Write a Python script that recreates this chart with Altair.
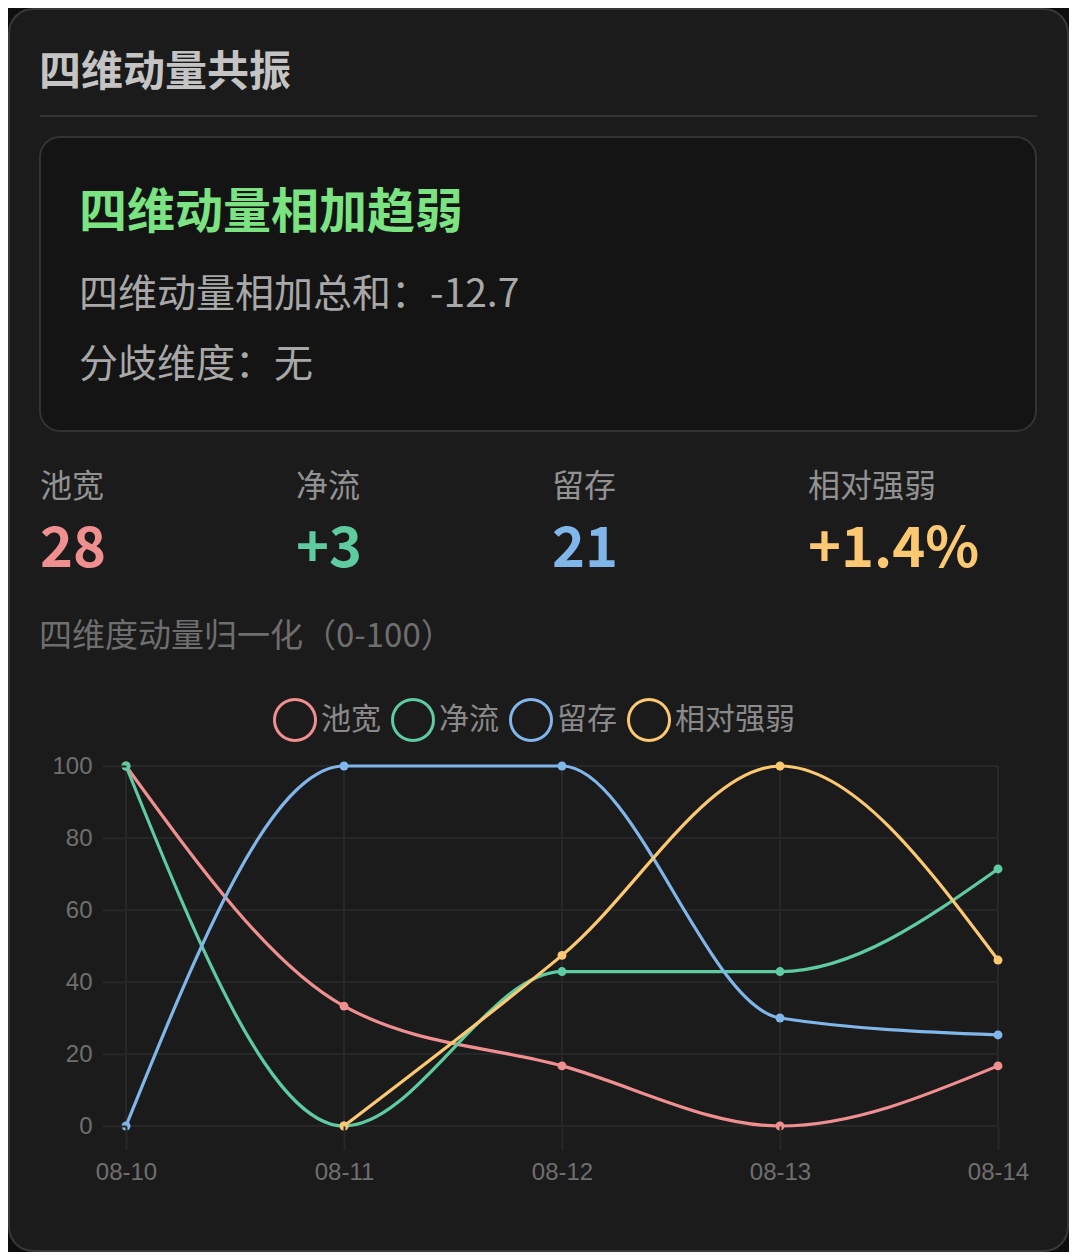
import math
import altair as alt
import pandas as pd

# ---------------- data ----------------
dates = ["08-10", "08-11", "08-12", "08-13", "08-14"]
series = ["池宽", "净流", "留存", "相对强弱"]
pool_width = [100, 33.3, 16.7, 0, 16.7]
net_flow = [100, 0, 42.9, 42.9, 71.4]
retention = [0, 100, 100, 30.0, 25.3]
rel_strength = [None, 0, 47.4, 100, 46.1]
series_colors = ["#f08f8f", "#5ecba1", "#80b6ea", "#fcc872"]

card_title = "四维动量共振"
signal_title = "四维动量相加趋弱"
signal_lines = ["四维动量相加总和：-12.7", "分歧维度：无"]
stat_labels = ["池宽", "净流", "留存", "相对强弱"]
stat_values = ["28", "+3", "21", "+1.4%"]
chart_subtitle = "四维度动量归一化（0-100）"
y_ticks = [0, 20, 40, 60, 80, 100]

# ---------------- build table ----------------
rows = []
for name, vals in zip(series, [pool_width, net_flow, retention, rel_strength]):
    for d, v in zip(dates, vals):
        if v is not None:
            rows.append({"date": d, "series": name, "value": v})
df = pd.DataFrame(rows)

CJK = "Noto Sans CJK SC"
LAT = "Liberation Sans"
GRID = "#272727"
one = pd.DataFrame({"k": [0]})


# ring-shaped legend symbol (outlined circle look), unit square [-1, 1]
def ring_path(inner=0.864, n=48):
    outer_pts = [(math.cos(2 * math.pi * i / n), math.sin(2 * math.pi * i / n)) for i in range(n)]
    inner_pts = [(inner * x, -inner * y) for x, y in outer_pts]
    p = "M" + " L".join(f"{x:.4f},{y:.4f}" for x, y in outer_pts) + " Z "
    p += "M" + " L".join(f"{x:.4f},{y:.4f}" for x, y in inner_pts) + " Z"
    return p


RING = ring_path()


def box(x, x2, y, y2, fill, stroke, radius):
    return alt.Chart(one).mark_rect(
        fill=fill, stroke=stroke, strokeWidth=2, cornerRadius=radius
    ).encode(x=alt.value(x), x2=alt.value(x2), y=alt.value(y), y2=alt.value(y2))


def label(text, x, y, size, color, weight="normal", font=CJK):
    return alt.Chart(pd.DataFrame({"t": [text]})).mark_text(
        align="left", baseline="middle", font=font, fontSize=size,
        fontWeight=weight, color=color
    ).encode(text="t:N", x=alt.value(x), y=alt.value(y))


layers = []
# card background and frames
layers.append(box(-117, 942, -757, 485, "#1b1b1b", "#383838", 24))
layers.append(
    alt.Chart(one).mark_rule(color="#333333", strokeWidth=2).encode(
        x=alt.value(-86), x2=alt.value(911), y=alt.value(-650)
    )
)
layers.append(box(-86, 910, -629, -335, "#141414", "#333333", 20))

# header texts
layers.append(label(card_title, -87, -693, 42, "#c4c4c4", "bold"))
layers.append(label(signal_title, -47, -552, 48, "#7be382", "bold"))
layers.append(label(signal_lines[0], -47, -471, 39, "#a8a8a8"))
layers.append(label(signal_lines[1], -47, -401, 39, "#a8a8a8"))

stat_x = [-86, 170, 426, 682]
for sx, lab, val, col in zip(stat_x, stat_labels, stat_values, series_colors):
    layers.append(label(lab, sx, -279, 32, "#929292"))
    layers.append(label(val, sx, -216, 56, col, "bold"))

layers.append(label(chart_subtitle, -87, -129, 33, "#6e6e6e"))

# ---------------- the line chart ----------------
x_scale = alt.Scale(type="point", padding=0)
y_scale = alt.Scale(domain=[0, 100], nice=False)
axis_common = dict(
    title=None, grid=False, domain=False, tickColor=GRID, tickWidth=2,
    tickSize=24, labelFont=LAT, labelFontSize=24, labelColor="#6f6f6f",
    labelPadding=10, zindex=1,
)

hgrid = alt.Chart(pd.DataFrame({"value": y_ticks})).mark_rule(
    color=GRID, strokeWidth=2
).encode(
    y=alt.Y("value:Q", scale=y_scale, axis=alt.Axis(values=y_ticks, **axis_common)),
    x=alt.value(0), x2=alt.value(872),
)
vgrid = alt.Chart(pd.DataFrame({"date": dates})).mark_rule(
    color=GRID, strokeWidth=2
).encode(
    x=alt.X("date:N", sort=dates, scale=x_scale,
            axis=alt.Axis(labelAngle=0, **axis_common)),
    y=alt.value(0), y2=alt.value(360),
)

# the stroke scale gets one unused extra entry so that its (hidden) legend is
# not merged with the colour legend below
lines = alt.Chart(df).mark_line(interpolate="monotone", strokeWidth=3.2).encode(
    x=alt.X("date:N", sort=dates),
    y=alt.Y("value:Q"),
    stroke=alt.Stroke(
        "series:N",
        scale=alt.Scale(domain=series + ["_"], range=series_colors + ["#000000"]),
        legend=None,
    ),
)
points = alt.Chart(df).mark_point(filled=True, size=80, opacity=1).encode(
    x=alt.X("date:N", sort=dates),
    y="value:Q",
    color=alt.Color(
        "series:N",
        scale=alt.Scale(domain=series, range=series_colors),
        sort=series,
        legend=alt.Legend(
            title=None, orient="none", legendX=147, legendY=-68,
            direction="horizontal", symbolType=RING, symbolSize=1936,
            symbolStrokeWidth=0, symbolOpacity=1,
            labelFont=CJK, labelFontSize=30, labelColor="#8a8a8a",
            labelOffset=4, columnPadding=10, padding=0,
        ),
    ),
)
layers += [hgrid, vgrid, lines, points]

chart = (
    alt.layer(*layers)
    .properties(
        width=872, height=360,
        autosize=alt.AutoSizeParams(type="none"),
        padding={"left": 118, "top": 758, "right": 71, "bottom": 126},
        background="#0e0e0e",
    )
    .configure_view(stroke=None)
)

chart.save("out.html", embed_options={"renderer": "svg", "actions": False})
